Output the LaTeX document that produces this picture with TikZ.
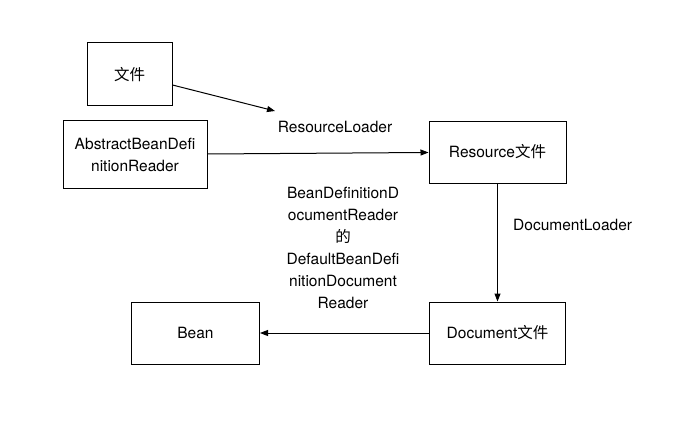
\documentclass[tikz,border=0pt]{standalone}
\usepackage{fontspec}
\setmainfont{TeX Gyre Heros}
\newfontfamily\cjk{Noto Sans CJK SC}
\usepackage{tikz}
\usetikzlibrary{arrows.meta,positioning}

\begin{document}
\begin{tikzpicture}[x=1pt,y=-1pt,
        box/.style={rectangle,draw,line width=1pt,align=center,inner sep=0pt},
        arr/.style={line width=1pt,-{Triangle[length=8pt,width=6pt]}},
        lbl/.style={align=center,inner sep=0pt}]
        \useasboundingbox (0,0) rectangle (687,441);
        \fontsize{15.5}{22}\selectfont

        % Boxes
        \node[box,minimum width=85pt,minimum height=63pt] (file) at (129.5,74.5) {{\cjk 文件}};
        \node[box,minimum width=144pt,minimum height=67.5pt] (reader) at (135,154.5) {AbstractBeanDefi\\nitionReader};
        \node[box,minimum width=137pt,minimum height=62pt] (resource) at (497.5,152) {Resource{\cjk 文件}};
        \node[box,minimum width=136pt,minimum height=62pt] (document) at (497.5,333) {Document{\cjk 文件}};
        \node[box,minimum width=128pt,minimum height=62pt] (bean) at (195.5,333) {Bean};

        % Labels
        \node[lbl] (rlabel) at (335,127) {ResourceLoader};
        \node[lbl,anchor=west] (dlabel) at (513,225) {DocumentLoader};
        \node[lbl] (blabel) at (343,247.5) {BeanDefinitionD\\ocumentReader\\{\cjk 的}\\DefaultBeanDefi\\nitionDocument\\Reader};

        % Arrows
        \coordinate (rl) at (275,111);
        \draw[arr] ([yshift=-10.5pt]file.east) -- (rl);
        \draw[arr] (reader) -- (resource);
        \draw[arr] (resource) -- (document);
        \draw[arr] (document) -- (bean);
    \end{tikzpicture}
\end{document}
